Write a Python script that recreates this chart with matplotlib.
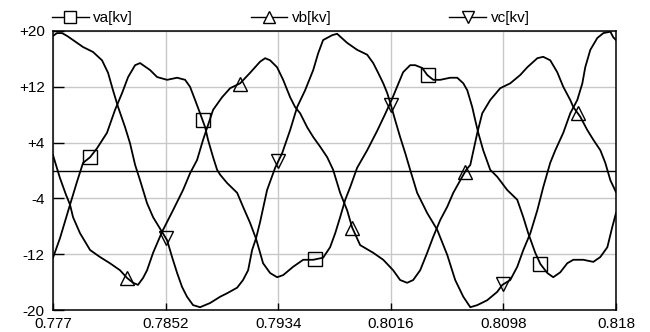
import numpy as np
import matplotlib
matplotlib.use('Agg')
import matplotlib.pyplot as plt
from matplotlib.lines import Line2D

plt.rcParams['font.family'] = ['Liberation Sans', 'DejaVu Sans']

# traced waveforms: time [s], voltage [kV]
t_va = [0.77700, 0.77751, 0.77824, 0.77875, 0.77919, 0.77970, 0.78021, 0.78093, 0.78152, 0.78203,
        0.78247, 0.78298, 0.78334, 0.78407, 0.78458, 0.78531, 0.78604, 0.78662, 0.78698, 0.78735,
        0.78771, 0.78808, 0.78829, 0.78866, 0.78895, 0.78917, 0.78968, 0.79041, 0.79084, 0.79135,
        0.79179, 0.79230, 0.79281, 0.79332, 0.79376, 0.79449, 0.79522, 0.79595, 0.79667, 0.79718,
        0.79755, 0.79791, 0.79828, 0.79864, 0.79915, 0.79988, 0.80061, 0.80119, 0.80170, 0.80214,
        0.80250, 0.80301, 0.80338, 0.80389, 0.80425, 0.80469, 0.80520, 0.80593, 0.80644, 0.80688,
        0.80717, 0.80753, 0.80775, 0.80797, 0.80833, 0.80884, 0.80935, 0.81008, 0.81081, 0.81125,
        0.81161, 0.81212, 0.81249, 0.81300, 0.81343, 0.81394, 0.81445, 0.81489, 0.81562, 0.81635,
        0.81686, 0.81737, 0.81773, 0.81800]
va = [-12.5, -9.7, -4.9, -1.6, 1.1, 1.9, 3.2, 5.4, 8.7, 11.1,
      13.4, 15.1, 15.4, 14.4, 13.4, 13.0, 13.3, 13.0, 12.0, 10.1,
      8.2, 6.2, 4.4, 1.9, 0.1, -0.6, -1.8, -3.2, -5.2, -7.5,
      -9.8, -13.3, -14.7, -15.3, -15.0, -13.8, -12.8, -12.8, -12.5, -11.0,
      -9.0, -6.7, -4.2, -2.4, 0.4, 2.9, 5.7, 8.1, 10.3, 12.4,
      14.1, 15.1, 15.1, 14.7, 13.7, 13.0, 13.0, 13.3, 13.3, 12.5,
      11.5, 9.1, 7.2, 5.4, 2.9, 0.1, -0.9, -2.8, -4.2, -6.7,
      -9.0, -11.8, -13.4, -14.7, -15.3, -14.6, -13.3, -12.8, -12.8, -13.1,
      -12.4, -11.0, -8.1, -6.1]

t_vb = [0.77700, 0.77751, 0.77795, 0.77824, 0.77846, 0.77897, 0.77970, 0.78042, 0.78115, 0.78188,
        0.78239, 0.78283, 0.78319, 0.78356, 0.78385, 0.78429, 0.78494, 0.78574, 0.78647, 0.78698,
        0.78749, 0.78793, 0.78866, 0.78931, 0.78990, 0.79063, 0.79135, 0.79208, 0.79245, 0.79281,
        0.79332, 0.79376, 0.79427, 0.79463, 0.79500, 0.79551, 0.79595, 0.79646, 0.79697, 0.79740,
        0.79791, 0.79842, 0.79879, 0.79937, 0.80032, 0.80105, 0.80177, 0.80228, 0.80279, 0.80323,
        0.80374, 0.80425, 0.80469, 0.80520, 0.80571, 0.80615, 0.80666, 0.80709, 0.80739, 0.80760,
        0.80790, 0.80826, 0.80884, 0.80957, 0.81030, 0.81103, 0.81154, 0.81227, 0.81270, 0.81321,
        0.81372, 0.81416, 0.81467, 0.81489, 0.81540, 0.81591, 0.81635, 0.81686, 0.81722, 0.81759,
        0.81800]
vb = [2.2, -1.1, -3.5, -4.9, -6.7, -9.0, -11.4, -12.4, -13.3, -14.3,
      -15.4, -16.1, -16.4, -15.4, -14.3, -11.8, -8.8, -5.7, -2.8, -0.4,
      1.5, 4.4, 8.7, 10.5, 11.8, 12.5, 14.0, 15.6, 16.1, 15.8,
      14.8, 13.0, 10.5, 9.1, 8.2, 6.2, 4.8, 3.4, 1.9, 0.1,
      -3.2, -5.7, -8.2, -10.7, -11.8, -12.8, -14.3, -15.7, -16.1, -15.7,
      -14.3, -11.8, -9.5, -7.1, -5.2, -3.2, -1.4, 0.1, 0.8, 2.7,
      5.4, 8.2, 10.1, 11.8, 12.5, 13.7, 14.8, 16.1, 16.3, 15.8,
      14.1, 12.0, 10.1, 9.1, 7.7, 5.8, 4.4, 2.9, 1.1, -1.4,
      -3.1]

t_vc = [0.77700, 0.77729, 0.77766, 0.77802, 0.77846, 0.77919, 0.77991, 0.78057, 0.78101, 0.78137,
        0.78174, 0.78225, 0.78261, 0.78298, 0.78334, 0.78385, 0.78429, 0.78494, 0.78531, 0.78567,
        0.78604, 0.78640, 0.78676, 0.78720, 0.78771, 0.78844, 0.78917, 0.78968, 0.79041, 0.79084,
        0.79121, 0.79150, 0.79179, 0.79208, 0.79259, 0.79318, 0.79369, 0.79427, 0.79478, 0.79536,
        0.79595, 0.79631, 0.79667, 0.79733, 0.79769, 0.79842, 0.79915, 0.79988, 0.80032, 0.80068,
        0.80105, 0.80134, 0.80156, 0.80192, 0.80228, 0.80265, 0.80301, 0.80352, 0.80425, 0.80498,
        0.80571, 0.80629, 0.80688, 0.80739, 0.80790, 0.80862, 0.80935, 0.80972, 0.81030, 0.81081,
        0.81125, 0.81176, 0.81227, 0.81270, 0.81321, 0.81358, 0.81416, 0.81467, 0.81518, 0.81555,
        0.81576, 0.81613, 0.81664, 0.81708, 0.81759, 0.81780, 0.81800]
vc = [19.3, 19.7, 19.7, 19.3, 18.7, 17.7, 17.0, 15.8, 14.0, 11.5,
      9.1, 6.2, 3.9, 0.8, -1.4, -4.7, -6.7, -8.8, -10.0, -12.4,
      -14.7, -16.7, -18.1, -19.3, -19.6, -19.0, -18.1, -17.6, -16.8, -15.7,
      -14.3, -11.4, -9.7, -7.4, -2.8, 0.4, 2.5, 5.8, 9.1, 11.5,
      14.4, 16.8, 18.7, 19.4, 19.6, 18.3, 17.3, 16.6, 15.4, 14.0,
      12.5, 11.1, 9.7, 7.2, 4.8, 2.5, 0.1, -3.2, -6.1, -8.5,
      -12.1, -15.7, -18.1, -19.6, -19.3, -18.6, -17.4, -16.4, -15.7, -13.8,
      -11.4, -9.0, -5.7, -2.4, 1.1, 2.9, 5.4, 8.2, 10.1, 12.5,
      14.8, 17.3, 19.0, 19.7, 19.9, 19.1, 18.7]

# instants where the symbols sit on each curve
mk_va = [0.7797, 0.7879, 0.7961, 0.8043, 0.8125]
mk_vb = [0.7824, 0.7906, 0.7988, 0.8070, 0.8152]
mk_vc = [0.7852, 0.7934, 0.8016, 0.8098]

labels = ['va[kv]', 'vb[kv]', 'vc[kv]']
xticks = [0.777, 0.7852, 0.7934, 0.8016, 0.8098, 0.818]
xticklabels = ['0.777', '0.7852', '0.7934', '0.8016', '0.8098', '0.818']
yticks = [20, 12, 4, -4, -12, -20]
yticklabels = ['+20', '+12', '+4', '-4', '-12', '-20']

fig = plt.figure(figsize=(6.5, 3.32), dpi=100)
ax = fig.add_axes([53/650, 22/332, 563/650, 279/332])

ax.set_xlim(0.777, 0.818)
ax.set_ylim(-20, 20)
ax.set_xticks(xticks)
ax.set_xticklabels(xticklabels)
ax.set_yticks(yticks)
ax.set_yticklabels(yticklabels)
ax.grid(color='#c8c8c8', lw=1.0)
ax.set_axisbelow(True)
ax.axhline(0, color='black', lw=1.0, zorder=2)

ax.tick_params(axis='x', direction='in', length=5, width=1, pad=5, labelsize=11)
ax.tick_params(axis='y', direction='in', length=8, width=1, pad=6, labelsize=11)
for s in ax.spines.values():
    s.set_linewidth(1.1)

series = [(t_va, va, mk_va, 's'), (t_vb, vb, mk_vb, '^'), (t_vc, vc, mk_vc, 'v')]
handles = []
for (t, v, mk, m), lab in zip(series, labels):
    ax.plot(t, v, color='black', lw=1.3, zorder=3)
    ax.plot(mk, np.interp(mk, t, v), ls='none', marker=m, ms=10,
            mfc='none', mec='black', mew=1.0, zorder=4)
    handles.append(Line2D([], [], color='black', lw=1.0, marker=m, ms=8,
                          mfc='white', mec='black', mew=1.0, label=lab))

fig.legend(handles=handles, loc='center left', bbox_to_anchor=(52/650, 1 - 18/332),
           ncol=3, frameon=False, fontsize=11, handlelength=2.4, handletextpad=0.3,
           columnspacing=7.7, borderpad=0, borderaxespad=0)

fig.savefig('out.png', dpi=100)
